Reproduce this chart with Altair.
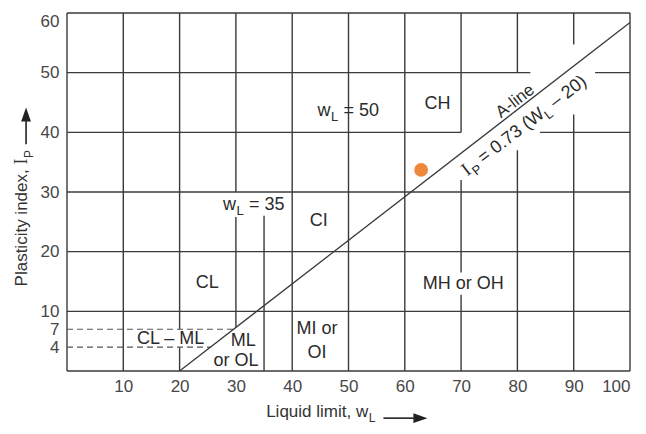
import altair as alt
import pandas as pd

# ---------------- data ----------------
x_ticks = [10, 20, 30, 40, 50, 60, 70, 80, 90, 100]
y_ticks = [4, 7, 10, 20, 30, 40, 50, 60]

# horizontal grid segments (y, from x1 to x2)
h_y  = [0, 10, 20, 30, 40, 40, 50, 50, 60]
h_x1 = [0, 0, 0, 0, 0, 84, 0, 93.8, 0]
h_x2 = [100, 100, 100, 100, 70, 100, 82.3, 100, 100]

# vertical grid segments (x, from y1 to y2)
v_x  = [0, 10, 20, 20, 30, 30, 35, 40, 50, 60, 70, 70, 70, 80, 80, 90, 90, 100]
v_y1 = [0, 0, 0, 7, 7.3, 30, 0, 0, 0, 0, 0, 16.5, 40, 0, 50, 0, 54.7, 0]
v_y2 = [60, 60, 4, 60, 25.8, 60, 26, 60, 60, 60, 12.8, 32, 60, 37, 60, 43, 60, 60]

# dashed lines at Ip = 7 and 4, ending on the A-line
dash_y = [7, 4]
dash_x_end = [29.6, 25.5]

# A-line end points: Ip = 0.73 (wL - 20)
aline_x = [20, 100]
aline_y = [0, 58.4]

# sample point
point_x = [62.9]
point_y = [33.7]

# zone labels
labels = ["CL", "CI", "CH", "MH or OH", "MI or", "OI", "CL \u2013 ML", "ML", "or OL"]
label_x = [24.9, 44.7, 65.8, 70.4, 44.4, 44.4, 18.4, 31.3, 30.0]
label_y = [14.7, 25.1, 44.7, 14.6, 7.1, 3.1, 5.3, 5.0, 1.7]

# "wL = 35" and "wL = 50" labels (anchor at end of the "w")
wl_x = [30.0, 46.8]
wl_y = [27.75, 43.55]
wl_rest = ["= 35", "= 50"]

# ---------------- styling ----------------
LINE = "#3a3a3a"
TXT = "#2b2b2b"
FONT = "Liberation Sans"
SERIF = "Liberation Serif"
ANG = 322.31  # A-line direction on screen

xsc = alt.Scale(domain=[0, 100], nice=False, zero=False)
ysc = alt.Scale(domain=[0, 60], nice=False, zero=False)

axis_common = dict(
    title=None, domain=False, ticks=False, grid=False,
    labelFont=FONT, labelFontSize=17, labelColor="#474747",
    labelFlush=True, labelOverlap=False,
)
AX = alt.Axis(values=x_ticks, labelPadding=7, **axis_common)
AY = alt.Axis(values=y_ticks, labelPadding=8, **axis_common)


def XE(f):
    return alt.X(f"{f}:Q", scale=xsc, axis=AX)


def YE(f):
    return alt.Y(f"{f}:Q", scale=ysc, axis=AY)


def text_layer(texts, xs_, ys_, size=18, font=FONT, color=TXT, **kw):
    df = pd.DataFrame({"t": texts, "x": xs_, "y": ys_})
    return alt.Chart(df).mark_text(fontSize=size, font=font, color=color, **kw).encode(
        x=XE("x"), y=YE("y"), text="t:N",
    )


# grid segments
segs = pd.DataFrame({
    "x1": h_x1 + v_x,
    "x2": h_x2 + v_x,
    "y1": h_y + v_y1,
    "y2": h_y + v_y2,
})

grid = alt.Chart(segs).mark_rule(color=LINE, strokeWidth=1.4).encode(
    x=XE("x1"), x2="x2:Q", y=YE("y1"), y2="y2:Q",
)

dashes = alt.Chart(pd.DataFrame({"y": dash_y, "x1": [0, 0], "x2": dash_x_end})).mark_rule(
    color="#555555", strokeWidth=1.2, strokeDash=[6, 4]
).encode(x=XE("x1"), x2="x2:Q", y=YE("y"))

aline = alt.Chart(pd.DataFrame({"x": aline_x, "y": aline_y})).mark_line(
    color=LINE, strokeWidth=1.3
).encode(x=XE("x"), y=YE("y"))

pt = alt.Chart(pd.DataFrame({"x": point_x, "y": point_y})).mark_circle(
    size=190, color="#F0883C", opacity=1
).encode(x=XE("x"), y=YE("y"))

zone = text_layer(labels, label_x, label_y, size=18, align="center", baseline="middle")

wl_w = text_layer(["w", "w"], wl_x, wl_y, size=18, align="right", baseline="middle")
wl_sub = text_layer(["L", "L"], wl_x, wl_y, size=13, align="left", baseline="middle", dx=0.5, dy=6)
wl_eq = text_layer(wl_rest, wl_x, wl_y, size=18, align="left", baseline="middle", dx=13)

# A-line labels (rotated)
a_lab = text_layer(["A-line"], [79.6], [45.2], size=17, align="center", baseline="middle", angle=ANG)
fx, fy = [72.0], [33.25]
f1 = text_layer(["I"], fx, fy, size=19, font=SERIF, align="right", baseline="alphabetic", angle=ANG)
f2 = text_layer(["P"], fx, fy, size=13, align="left", baseline="alphabetic", angle=ANG, dx=1, dy=5)
f3 = text_layer(["= 0.73 (W"], fx, fy, size=18, align="left", baseline="alphabetic", angle=ANG, dx=14)
f4 = text_layer(["L"], fx, fy, size=13, align="left", baseline="alphabetic", angle=ANG, dx=92.5, dy=5)
f5 = text_layer(["\u2013 20)"], fx, fy, size=18, align="left", baseline="alphabetic", angle=ANG, dx=104.7)

# axis titles (drawn as text so the subscripts can be set)
XT_Y = -7.7
xt_main = text_layer(["Liquid limit, w"], [53.5], [XT_Y], size=17, color="#333333",
                     align="right", baseline="alphabetic")
xt_sub = text_layer(["L"], [53.5], [XT_Y], size=12, color="#333333",
                    align="left", baseline="alphabetic", dx=0.5, dy=5)
yt_main = text_layer(["Plasticity index,"], [-7.18], [34.6], size=17, color="#333333",
                     align="right", baseline="alphabetic", angle=270, dx=-4.7)
yt_I = text_layer(["I"], [-7.18], [34.6], size=18, font=SERIF, color="#333333",
                  align="left", baseline="alphabetic", angle=270)
yt_sub = text_layer(["P"], [-7.18], [34.6], size=12, color="#333333",
                    align="left", baseline="alphabetic", angle=270, dx=6.5, dy=6)

# arrows on the axis titles
arrow_rules = alt.Chart(pd.DataFrame({
    "x1": [56.2, -7.27], "x2": [61.6, -7.27],
    "y1": [XT_Y - 0.2, 38.0], "y2": [XT_Y - 0.2, 42.1],
})).mark_rule(color="#222222", strokeWidth=1.6).encode(
    x=XE("x1"), x2="x2:Q", y=YE("y1"), y2="y2:Q",
)
head_x = alt.Chart(pd.DataFrame({"x": [62.77], "y": [XT_Y - 0.2]})).mark_point(
    shape="M1,0L-1,0.7L-1,-0.7Z", size=196, filled=True, color="#222222", opacity=1
).encode(x=XE("x"), y=YE("y"))
head_y = alt.Chart(pd.DataFrame({"x": [-7.27], "y": [43.0]})).mark_point(
    shape="M0,-1L0.7,1L-0.7,1Z", size=196, filled=True, color="#222222", opacity=1
).encode(x=XE("x"), y=YE("y"))

chart = alt.layer(
    grid, dashes, aline, pt, zone, wl_w, wl_sub, wl_eq,
    a_lab, f1, f2, f3, f4, f5,
    xt_main, xt_sub, yt_main, yt_I, yt_sub,
    arrow_rules, head_x, head_y,
).properties(
    width=563, height=358,
    autosize=alt.AutoSizeParams(type="none"),
    padding={"left": 59, "top": 5, "right": 8, "bottom": 55},
    background="white",
).configure_view(stroke=None)

chart.save("out.html", embed_options={"renderer": "svg", "actions": False})
